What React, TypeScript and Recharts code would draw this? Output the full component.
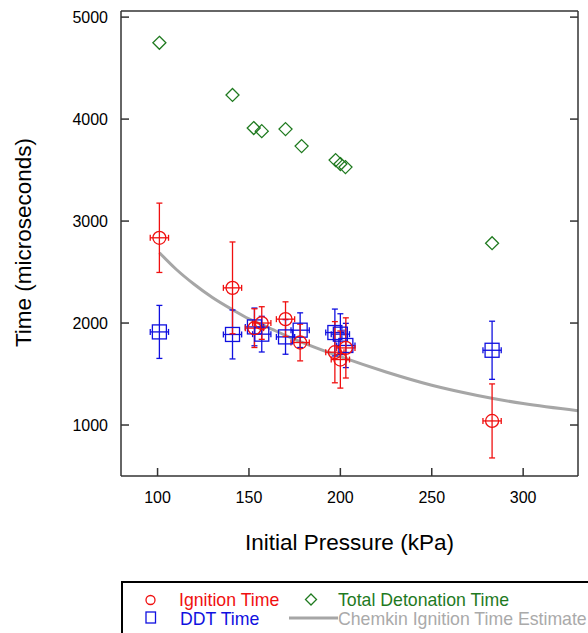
import {
  ComposedChart,
  ErrorBar,
  Label,
  Legend,
  Line,
  Scatter,
  XAxis,
  YAxis,
} from 'recharts';

// ignition time (red circles)
const ignX = [101, 141, 153, 157, 170, 178, 197, 200, 203, 283];
const ignY = [2836, 2345, 1950, 2000, 2038, 1809, 1714, 1642, 1756, 1040];
const ignErrY = [340, 450, 190, 160, 170, 180, 300, 280, 295, 363];

// DDT time (blue squares)
const ddtX = [101, 141, 153, 157, 170, 178, 197, 200, 203, 283];
const ddtY = [1913, 1888, 1962, 1891, 1864, 1930, 1907, 1891, 1780, 1733];
const ddtErrY = [260, 240, 185, 175, 170, 170, 230, 200, 217, 285];

// total detonation time (green diamonds)
const detX = [101, 141, 152.6, 157, 170, 178.8, 197.4, 200, 202.8, 283];
const detY = [4748, 4237, 3912, 3882, 3902, 3735, 3598, 3559, 3529, 2783];

// chemkin estimate (gray curve)
const chemX = [101, 110, 120, 130, 141, 150, 160, 175, 200, 225, 250, 275, 300, 330];
const chemY = [2690, 2530, 2380, 2250, 2130, 2040, 1960, 1840, 1670, 1520, 1390, 1290, 1210, 1140];

const pressErr = 5;
const xTicks = [100, 150, 200, 250, 300];
const yTicks = [1000, 2000, 3000, 4000, 5000];

const RED = '#f01010';
const BLUE = '#1010e0';
const GREEN = '#1f7a1f';
const GRAY = '#a6a6a6';
const AXIS = '#333';

const ignData = ignX.map((x, i) => ({ x, y: ignY[i], ey: ignErrY[i], ex: pressErr }));
const ddtData = ddtX.map((x, i) => ({ x, y: ddtY[i], ey: ddtErrY[i], ex: pressErr }));
const detData = detX.map((x, i) => ({ x, y: detY[i] }));
const chemData = chemX.map((x, i) => ({ x, y: chemY[i] }));

const CircleMark = (p: any) => (
  <circle cx={p.cx} cy={p.cy} r={6.5} fill="none" stroke={RED} strokeWidth={1.3} />
);
const SquareMark = (p: any) => (
  <rect x={p.cx - 7} y={p.cy - 7} width={14} height={14} fill="none" stroke={BLUE} strokeWidth={1.3} />
);
const DiamondMark = (p: any) => (
  <path
    d={`M${p.cx},${p.cy - 6.5}L${p.cx + 6.5},${p.cy}L${p.cx},${p.cy + 6.5}L${p.cx - 6.5},${p.cy}Z`}
    fill="none"
    stroke={GREEN}
    strokeWidth={1.3}
  />
);

const LegendBox = () => {
  const txt = { position: 'absolute' as const, fontSize: 17.7, whiteSpace: 'nowrap' as const, lineHeight: '20px' };
  return (
    <div
      style={{
        position: 'relative',
        width: 520,
        height: 70,
        border: '2px solid #000',
        boxSizing: 'border-box',
        background: '#fff',
        fontFamily: 'Arial, "Liberation Sans", sans-serif',
      }}
    >
      <svg width={520} height={70} style={{ position: 'absolute', left: -2, top: -2 }}>
        <circle cx={29.5} cy={19} r={4.5} fill="none" stroke={RED} strokeWidth={1.3} />
        <rect x={25} y={31} width={9.5} height={11} fill="none" stroke={BLUE} strokeWidth={1.3} />
        <path d="M190,13L195.5,18.5L190,24L184.5,18.5Z" fill="none" stroke={GREEN} strokeWidth={1.3} />
        <line x1={168} y1={37} x2={217} y2={37} stroke={GRAY} strokeWidth={3} />
      </svg>
      <span style={{ ...txt, left: 56, top: 7, color: RED }}>Ignition Time</span>
      <span style={{ ...txt, left: 57, top: 26, color: BLUE }}>DDT Time</span>
      <span style={{ ...txt, left: 215, top: 7, color: GREEN }}>Total Detonation Time</span>
      <span style={{ ...txt, left: 215, top: 26, color: '#aaaaaa' }}>Chemkin Ignition Time Estimate</span>
    </div>
  );
};

export default function App() {
  const tickStyle = { fontSize: 16, fill: '#000', fontFamily: 'Arial, "Liberation Sans", sans-serif' };
  return (
    <div style={{ position: 'fixed', left: 0, top: 0, width: 588, height: 633, overflow: 'hidden', background: '#fff' }}>
      <ComposedChart
        width={588}
        height={633}
        margin={{ top: 10, right: 9, bottom: 77, left: 0 }}
        style={{ fontFamily: 'Arial, "Liberation Sans", sans-serif' }}
      >
        <XAxis
          dataKey="x"
          type="number"
          domain={[80, 330]}
          allowDataOverflow
          ticks={xTicks}
          tickSize={-8}
          tickMargin={24}
          height={80}
          tick={tickStyle}
          stroke={AXIS}
          strokeWidth={1.5}
        >
          <Label
            content={(p: any) => (
              <text
                x={p.viewBox.x + p.viewBox.width / 2}
                y={p.viewBox.y + 74}
                textAnchor="middle"
                fontSize={22.5}
                fill="#000"
              >
                Initial Pressure (kPa)
              </text>
            )}
          />
        </XAxis>
        <XAxis
          xAxisId="top"
          orientation="top"
          type="number"
          domain={[80, 330]}
          allowDataOverflow
          ticks={xTicks}
          tickSize={-8}
          height={1}
          tickFormatter={() => ''}
          stroke={AXIS}
          strokeWidth={1.5}
        />
        <YAxis
          dataKey="y"
          type="number"
          domain={[500, 5060]}
          allowDataOverflow
          ticks={yTicks}
          tickSize={-8}
          tickMargin={21}
          width={121}
          tick={tickStyle}
          stroke={AXIS}
          strokeWidth={1.5}
        >
          <Label
            content={(p: any) => {
              const cx = 31;
              const cy = p.viewBox.y + p.viewBox.height / 2 - 1;
              return (
                <text
                  x={cx}
                  y={cy}
                  transform={`rotate(-90, ${cx}, ${cy})`}
                  textAnchor="middle"
                  fontSize={22.5}
                  fill="#000"
                >
                  Time (microseconds)
                </text>
              );
            }}
          />
        </YAxis>
        <YAxis
          yAxisId="right"
          orientation="right"
          type="number"
          domain={[500, 5060]}
          allowDataOverflow
          ticks={yTicks}
          tickSize={-8}
          width={1}
          tickFormatter={() => ''}
          stroke={AXIS}
          strokeWidth={1.5}
        />
        <Line
          data={chemData}
          dataKey="y"
          type="monotone"
          stroke={GRAY}
          strokeWidth={3}
          dot={false}
          isAnimationActive={false}
        />
        <Scatter data={ddtData} shape={SquareMark} isAnimationActive={false}>
          <ErrorBar dataKey="ey" direction="y" width={3} stroke={BLUE} strokeWidth={1.3} />
          <ErrorBar dataKey="ex" direction="x" width={3} stroke={BLUE} strokeWidth={1.3} />
        </Scatter>
        <Scatter data={ignData} shape={CircleMark} isAnimationActive={false}>
          <ErrorBar dataKey="ey" direction="y" width={3} stroke={RED} strokeWidth={1.3} />
          <ErrorBar dataKey="ex" direction="x" width={3} stroke={RED} strokeWidth={1.3} />
        </Scatter>
        <Scatter data={detData} shape={DiamondMark} isAnimationActive={false} />
        <Legend
          verticalAlign="middle"
          align="center"
          layout="horizontal"
          wrapperStyle={{ left: 121, top: 581, width: 520, height: 70 }}
          content={() => <LegendBox />}
        />
      </ComposedChart>
    </div>
  );
}
